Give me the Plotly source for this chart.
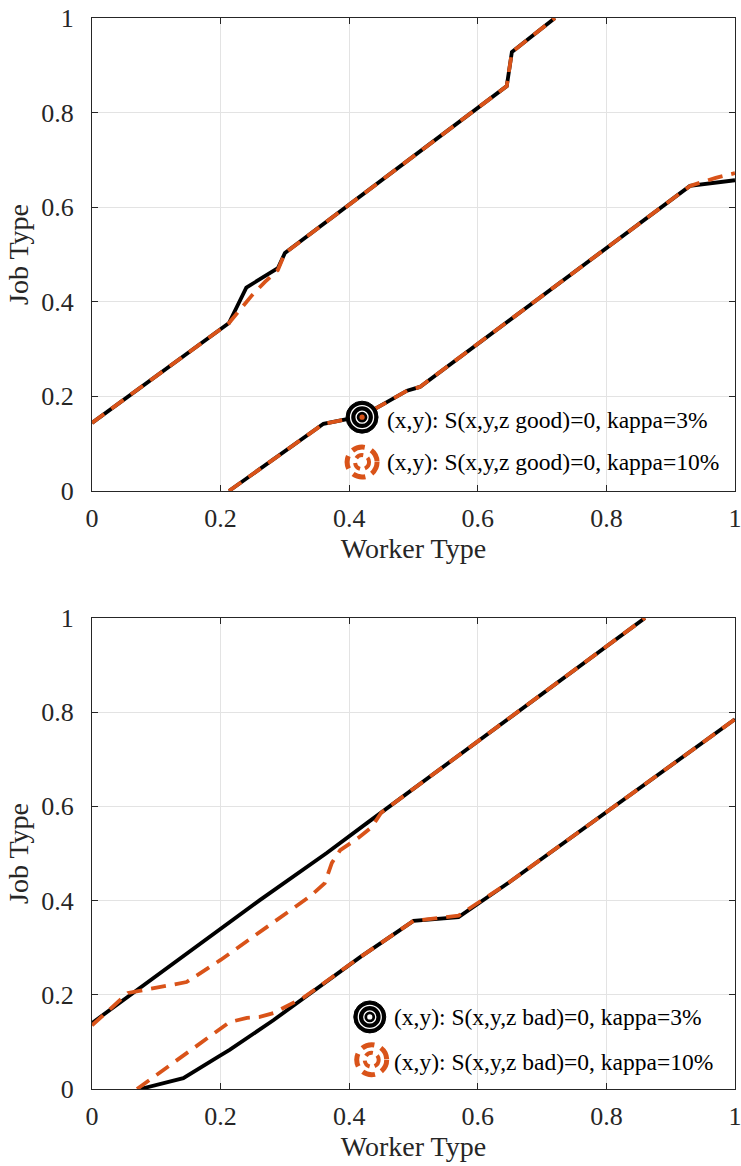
import plotly.graph_objects as go
from plotly.subplots import make_subplots

# ---- data ----
# top panel: z good
good_up_k3_x = [0.0, 0.213, 0.24, 0.289, 0.30, 0.645, 0.653, 0.72]
good_up_k3_y = [0.144, 0.355, 0.43, 0.471, 0.503, 0.856, 0.928, 1.0]
good_up_k10_x = [0.0, 0.213, 0.249, 0.269, 0.289, 0.30, 0.645, 0.653, 0.72]
good_up_k10_y = [0.144, 0.355, 0.414, 0.442, 0.467, 0.503, 0.856, 0.928, 1.0]
good_lo_k3_x = [0.213, 0.36, 0.42, 0.49, 0.51, 0.93, 1.0]
good_lo_k3_y = [0.0, 0.142, 0.158, 0.212, 0.22, 0.645, 0.657]
good_lo_k10_x = [0.213, 0.36, 0.42, 0.49, 0.51, 0.93, 0.97, 1.0]
good_lo_k10_y = [0.0, 0.142, 0.158, 0.212, 0.22, 0.645, 0.662, 0.672]

# bottom panel: z bad
bad_up_k3_x = [0.0, 0.261, 0.365, 0.428, 0.86]
bad_up_k3_y = [0.14, 0.401, 0.501, 0.565, 1.0]
bad_up_k10_x = [0.0, 0.056, 0.147, 0.2, 0.34, 0.362, 0.373, 0.386, 0.414, 0.435, 0.45, 0.86]
bad_up_k10_y = [0.135, 0.204, 0.227, 0.274, 0.41, 0.437, 0.48, 0.507, 0.533, 0.556, 0.587, 1.0]
bad_lo_k3_x = [0.075, 0.142, 0.196, 0.214, 0.282, 0.417, 0.50, 0.57, 0.65, 1.0]
bad_lo_k3_y = [0.0, 0.023, 0.068, 0.083, 0.146, 0.28, 0.357, 0.365, 0.44, 0.785]
bad_lo_k10_x = [0.07, 0.214, 0.241, 0.261, 0.282, 0.33, 0.417, 0.50, 0.57, 0.65, 1.0]
bad_lo_k10_y = [0.0, 0.142, 0.151, 0.153, 0.161, 0.195, 0.28, 0.357, 0.368, 0.44, 0.785]

tick_vals = [0, 0.2, 0.4, 0.6, 0.8, 1]
tick_text = ["0", "0.2", "0.4", "0.6", "0.8", "1"]

legend_good = ["(x,y): S(x,y,z good)=0, kappa=3%", "(x,y): S(x,y,z good)=0, kappa=10%"]
legend_bad = ["(x,y): S(x,y,z bad)=0, kappa=3%", "(x,y): S(x,y,z bad)=0, kappa=10%"]

BLACK = "#000000"
ORANGE = "#D95319"
AXC = "#262626"
FONT = "Liberation Serif, Times New Roman, serif"

fig = make_subplots(rows=2, cols=1, vertical_spacing=0.1186,
                    row_heights=[0.5011, 0.4989])
fig.update_yaxes(domain=[0.5584, 1.0], row=1, col=1)
fig.update_yaxes(domain=[0.0, 0.4398], row=2, col=1)


def add_pair(xk3, yk3, xk10, yk10, row):
    fig.add_trace(go.Scatter(x=xk3, y=yk3, mode="lines",
                             line=dict(color=BLACK, width=3.8),
                             showlegend=False, hoverinfo="skip"), row=row, col=1)
    fig.add_trace(go.Scatter(x=xk10, y=yk10, mode="lines",
                             line=dict(color=ORANGE, width=3.8, dash="15px,9px"),
                             showlegend=False, hoverinfo="skip"), row=row, col=1)


add_pair(good_up_k3_x, good_up_k3_y, good_up_k10_x, good_up_k10_y, 1)
add_pair(good_lo_k3_x, good_lo_k3_y, good_lo_k10_x, good_lo_k10_y, 1)
add_pair(bad_up_k3_x, bad_up_k3_y, bad_up_k10_x, bad_up_k10_y, 2)
add_pair(bad_lo_k3_x, bad_lo_k3_y, bad_lo_k10_x, bad_lo_k10_y, 2)

axis_common = dict(
    range=[0, 1], tickvals=tick_vals, ticktext=tick_text,
    showgrid=True, gridcolor="#e3e3e3", gridwidth=1,
    showline=True, linecolor=AXC, linewidth=1.2, mirror="ticks",
    ticks="inside", ticklen=6, tickcolor=AXC, tickwidth=1,
    zeroline=False, automargin=False, ticklabeloverflow="allow",
    tickfont=dict(family=FONT, size=26, color=AXC),
)
for r in (1, 2):
    fig.update_xaxes(**axis_common, row=r, col=1, ticklabelstandoff=4,
                     title=dict(text="Worker Type", standoff=2,
                                font=dict(family=FONT, size=28, color=AXC)))
    fig.update_yaxes(**axis_common, row=r, col=1, ticklabelstandoff=12,
                     title=dict(text="Job Type", standoff=4,
                                font=dict(family=FONT, size=28, color=AXC)))


def legend_icons(xref, yref, x1, y1, x2, y2, center_color):
    def circ(x, y, r, **kw):
        fig.add_shape(type="circle", xref=xref, yref=yref,
                      xsizemode="pixel", ysizemode="pixel",
                      xanchor=x, yanchor=y, x0=-r, x1=r, y0=-r, y1=r, **kw)
    circ(x1, y1, 16, fillcolor=BLACK, line=dict(color=BLACK, width=1))
    circ(x1, y1, 11.5, fillcolor="rgba(0,0,0,0)", line=dict(color="white", width=1.3))
    circ(x1, y1, 6, fillcolor="rgba(0,0,0,0)", line=dict(color="white", width=1.3))
    circ(x1, y1, 2.6, fillcolor=center_color, line=dict(color=center_color, width=0))
    circ(x2, y2, 15, fillcolor="rgba(0,0,0,0)", line=dict(color=ORANGE, width=5, dash="13px,7px"))
    circ(x2, y2, 7, fillcolor="rgba(0,0,0,0)", line=dict(color=ORANGE, width=4, dash="8px,5px"))


legend_icons("x domain", "y domain", 0.42, 0.156, 0.42, 0.061, ORANGE)
legend_icons("x2 domain", "y2 domain", 0.432, 0.153, 0.435, 0.062, "white")

for xref, yref, x, ys, texts in [("x domain", "y domain", 0.456, (0.150, 0.061), legend_good),
                                 ("x2 domain", "y2 domain", 0.467, (0.153, 0.057), legend_bad)]:
    for y, t in zip(ys, texts):
        fig.add_annotation(text=t, xref=xref, yref=yref, x=x, y=y,
                           xanchor="left", yanchor="middle", showarrow=False,
                           font=dict(family=FONT, size=23.5, color="black"))

fig.update_layout(
    width=741, height=1166,
    margin=dict(l=92, r=6, t=18, b=77),
    plot_bgcolor="white", paper_bgcolor="white",
    showlegend=False,
    font=dict(family=FONT),
)

fig.write_html("out.html")
